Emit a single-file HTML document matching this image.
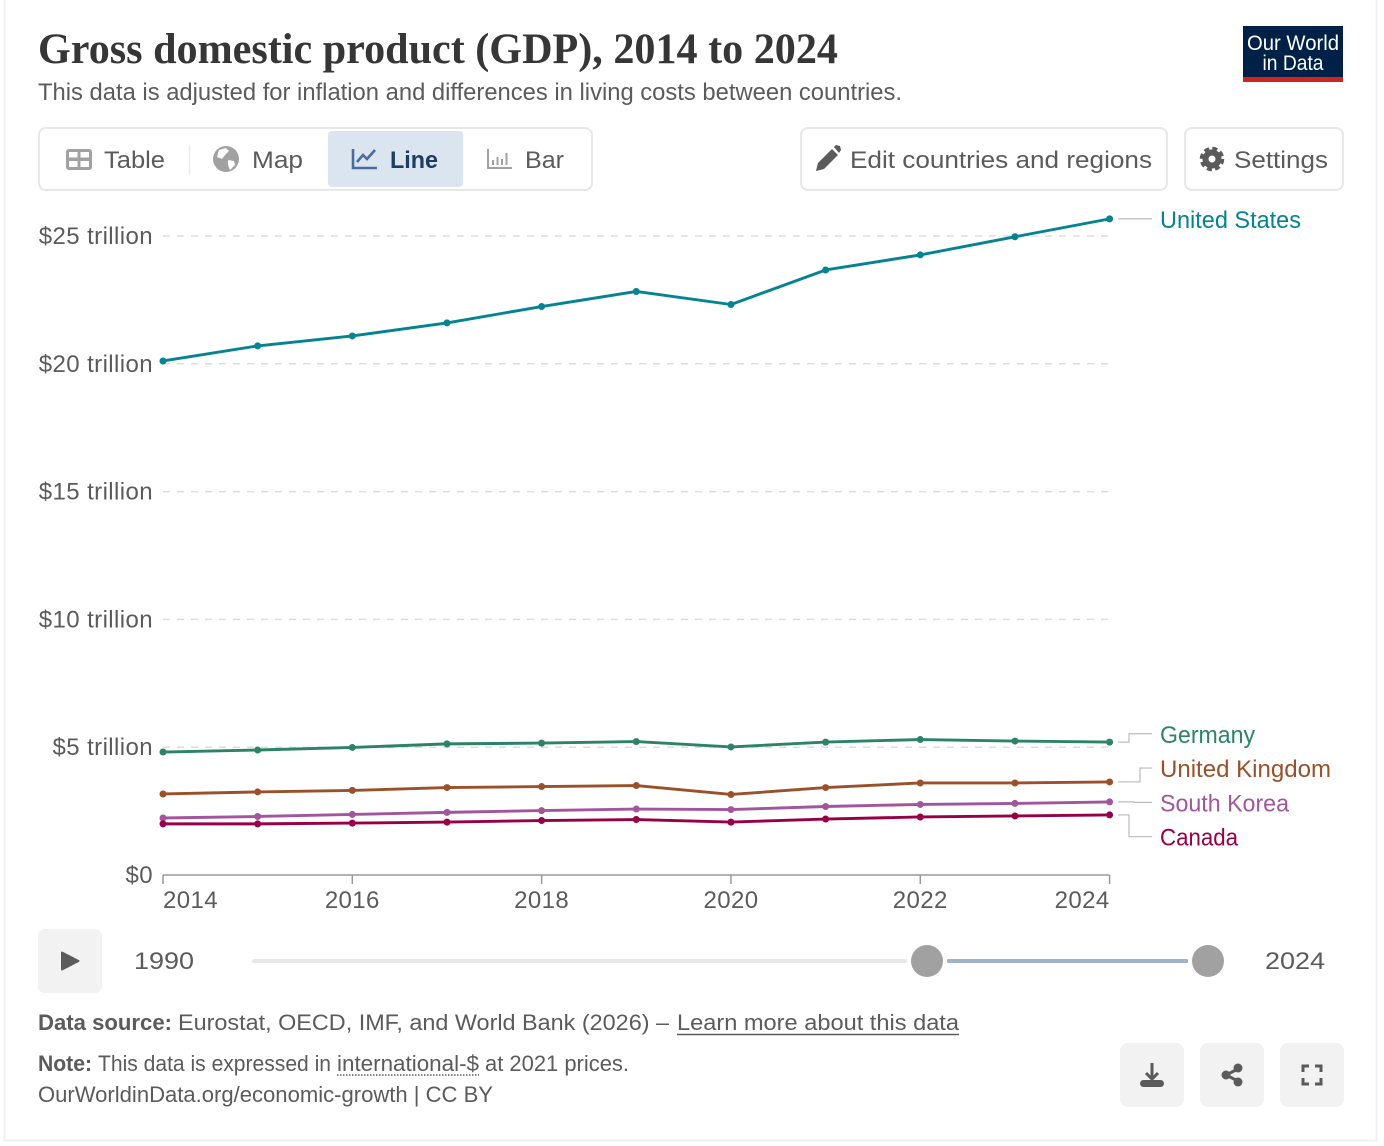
<!DOCTYPE html>
<html lang="en">
<head>
<meta charset="utf-8">
<title>Gross domestic product (GDP), 2014 to 2024</title>
<style>
html,body{margin:0;padding:0;background:#fff;width:1384px;height:1146px;overflow:hidden}
svg{display:block}
text{font-family:"Liberation Sans",sans-serif;font-size:24px;fill:#5b5b5b}
.foot{font-size:22.5px}
</style>
</head>
<body>
<svg id="chart" xmlns="http://www.w3.org/2000/svg" width="1384" height="1146" viewBox="0 0 1384 1146">
  <path d="M4.5 0V1140.5H1376.5V0" fill="none" stroke="#f0f0f0" stroke-width="2"/>

  <text x="38" y="63" textLength="800" lengthAdjust="spacingAndGlyphs" style="font-family:'Liberation Serif',serif;font-weight:700;font-size:43px;fill:#363636">Gross domestic product (GDP), 2014 to 2024</text>
  <text x="38" y="100" textLength="864" lengthAdjust="spacingAndGlyphs">This data is adjusted for inflation and differences in living costs between countries.</text>

  <g>
    <rect x="1243" y="26" width="100" height="56" fill="#002147"/>
    <rect x="1243" y="77" width="100" height="5" fill="#ce261e"/>
    <text x="1293" y="50" text-anchor="middle" textLength="92" lengthAdjust="spacingAndGlyphs" style="fill:#fff;font-size:21px">Our World</text>
    <text x="1293" y="70" text-anchor="middle" textLength="61" lengthAdjust="spacingAndGlyphs" style="fill:#fff;font-size:21px">in Data</text>
  </g>

  <g>
    <rect x="39" y="128" width="553" height="62" rx="7" fill="#fff" stroke="#e7e7e7" stroke-width="2"/>
    <rect x="328" y="131" width="135" height="56" rx="4" fill="#dbe5f0"/>
    <line x1="189.5" y1="145" x2="189.5" y2="175" stroke="#eee" stroke-width="1.5"/>
    <g>
      <rect x="66" y="149" width="26" height="21" rx="3" fill="#a1a1a1"/>
      <rect x="69" y="152" width="8.500" height="5.500" fill="#fff"/>
      <rect x="80.500" y="152" width="8.500" height="5.500" fill="#fff"/>
      <rect x="69" y="161" width="8.500" height="6" fill="#fff"/>
      <rect x="80.500" y="161" width="8.500" height="6" fill="#fff"/>
    </g>
    <text x="104" y="168" textLength="61" lengthAdjust="spacingAndGlyphs">Table</text>
    <g>
      <circle cx="226" cy="159" r="13" fill="#a1a1a1"/>
      <path d="M219 150l7-2 3 3-4 4-3 4-5-2zM228 160l6 1 1 4-5 5-2-5z" fill="#fff"/>
      <text x="252" y="168" textLength="51" lengthAdjust="spacingAndGlyphs">Map</text>
    </g>
    <g>
      <path d="M353 149V168H377" fill="none" stroke="#4c6a9c" stroke-width="2.6"/>
      <path d="M357 162l6-7 4 4 8-9" fill="none" stroke="#4c6a9c" stroke-width="2.6"/>
      <text x="390" y="168" textLength="48" lengthAdjust="spacingAndGlyphs" style="fill:#1d3d63;font-weight:700">Line</text>
    </g>
    <g>
      <path d="M488 149V168H512" fill="none" stroke="#a1a1a1" stroke-width="2"/>
      <path d="M493 165v-5M497.500 165v-8M502 165v-6M506.500 165v-12" stroke="#a1a1a1" stroke-width="2" fill="none"/>
      <text x="525" y="168" textLength="39" lengthAdjust="spacingAndGlyphs">Bar</text>
    </g>
  </g>

  <g>
    <rect x="801" y="128" width="366" height="62" rx="7" fill="#fff" stroke="#e7e7e7" stroke-width="2"/>
    <path d="M816 171l2-8 14-14 6 6-14 14zM834 147l2-2 4 1 1 4-2 3z" fill="#5b5b5b"/>
    <text x="850" y="168" textLength="302" lengthAdjust="spacingAndGlyphs">Edit countries and regions</text>
  </g>
  <g>
    <rect x="1185" y="128" width="158" height="62" rx="7" fill="#fff" stroke="#e7e7e7" stroke-width="2"/>
    <circle cx="1212" cy="159" r="10.500" fill="none" stroke="#5b5b5b" stroke-width="3.500" stroke-dasharray="5 3.250"/>
    <circle cx="1212" cy="159" r="6.500" fill="none" stroke="#5b5b5b" stroke-width="6"/>
    <text x="1234" y="168" textLength="94" lengthAdjust="spacingAndGlyphs">Settings</text>
  </g>

  <g id="grid"></g>
  <g id="yaxis"></g>
  <g id="xaxis"></g>
  <g id="plot"></g>
  <g id="labels"></g>

  <g>
    <g>
      <rect x="38" y="929" width="64" height="64" rx="7" fill="#f2f2f2"/>
      <path d="M62 952.500V969.500L78.500 961Z" fill="#5b5b5b" stroke="#5b5b5b" stroke-width="2" stroke-linejoin="round"/>
    </g>
    <text x="134" y="969" textLength="60" lengthAdjust="spacingAndGlyphs">1990</text>
    <rect x="252" y="959" width="655" height="4" rx="2" fill="#e7e7e7"/>
    <rect x="947" y="959" width="241" height="4" rx="1" fill="#a1b4c7"/>
    <circle cx="927" cy="961" r="16" fill="#a1a1a1"/>
    <circle cx="1208" cy="961" r="16" fill="#a1a1a1"/>
    <text x="1265" y="969" textLength="60" lengthAdjust="spacingAndGlyphs">2024</text>
  </g>

  <g>
    <text class="foot" x="38" y="1030" textLength="134" lengthAdjust="spacingAndGlyphs" style="font-weight:700">Data source:</text>
    <text class="foot" x="178" y="1030" textLength="491" lengthAdjust="spacingAndGlyphs">Eurostat, OECD, IMF, and World Bank (2026) –</text>
    <text class="foot" x="677" y="1030" textLength="282" lengthAdjust="spacingAndGlyphs">Learn more about this data</text>
    <line x1="677" y1="1034.500" x2="959" y2="1034.500" stroke="#5b5b5b" stroke-width="1.500"/>
    <text class="foot" x="38" y="1071" textLength="54" lengthAdjust="spacingAndGlyphs" style="font-weight:700">Note:</text>
    <text class="foot" x="98" y="1071" textLength="233" lengthAdjust="spacingAndGlyphs">This data is expressed in</text>
    <text class="foot" x="337" y="1071" textLength="142" lengthAdjust="spacingAndGlyphs">international-$</text>
    <line x1="337" y1="1075" x2="479" y2="1075" stroke="#5b5b5b" stroke-width="1.500" stroke-dasharray="1.500 1.500"/>
    <text class="foot" x="485" y="1071" textLength="144" lengthAdjust="spacingAndGlyphs">at 2021 prices.</text>
    <text class="foot" x="38" y="1102" textLength="455" lengthAdjust="spacingAndGlyphs">OurWorldinData.org/economic-growth | CC BY</text>

    <g>
      <rect x="1120" y="1043" width="64" height="64" rx="8" fill="#f2f2f2"/>
      <path d="M1152 1063V1078M1146 1073L1152 1079L1158 1073" fill="none" stroke="#5b5b5b" stroke-width="3"/>
      <rect x="1140" y="1080" width="24" height="7" rx="3.500" fill="#5b5b5b"/>
    </g>
    <g>
      <rect x="1200" y="1043" width="64" height="64" rx="8" fill="#f2f2f2"/>
      <path d="M1238 1069L1226 1075L1238 1081" fill="none" stroke="#5b5b5b" stroke-width="3"/>
      <circle cx="1238" cy="1068" r="4.500" fill="#5b5b5b"/>
      <circle cx="1226" cy="1075" r="4.500" fill="#5b5b5b"/>
      <circle cx="1238" cy="1082" r="4.500" fill="#5b5b5b"/>
    </g>
    <g>
      <rect x="1280" y="1043" width="64" height="64" rx="8" fill="#f2f2f2"/>
      <path d="M1303 1072V1066H1309M1315 1066H1321V1072M1321 1078V1084H1315M1309 1084H1303V1078" fill="none" stroke="#5b5b5b" stroke-width="3"/>
    </g>
  </g>
</svg>
<script>
const years = [2014, 2015, 2016, 2017, 2018, 2019, 2020, 2021, 2022, 2023, 2024];
const yTickValues = [0, 5, 10, 15, 20, 25];
const yTickLabels = ["$0", "$5 trillion", "$10 trillion", "$15 trillion", "$20 trillion", "$25 trillion"];
const xTickLabels = [2014, 2016, 2018, 2020, 2022, 2024];
const seriesNames = ["United States", "Germany", "United Kingdom", "South Korea", "Canada"];
const unitedStates = [20.11, 20.70, 21.09, 21.60, 22.24, 22.83, 22.32, 23.67, 24.26, 24.97, 25.67];
const germany = [4.81, 4.89, 4.99, 5.13, 5.16, 5.22, 5.01, 5.20, 5.30, 5.24, 5.20];
const unitedKingdom = [3.17, 3.25, 3.31, 3.42, 3.46, 3.50, 3.15, 3.42, 3.60, 3.60, 3.64];
const southKorea = [2.23, 2.29, 2.37, 2.45, 2.52, 2.58, 2.56, 2.68, 2.76, 2.80, 2.86];
const canada = [2.00, 2.00, 2.03, 2.07, 2.13, 2.17, 2.07, 2.19, 2.27, 2.31, 2.35];

const seriesValues = [unitedStates, germany, unitedKingdom, southKorea, canada];
const seriesColors = ["#058390", "#2c8465", "#9a5129", "#a2559c", "#970046"];
const labelTextWidths = [141, 95, 171, 129, 78];

const NS = "http://www.w3.org/2000/svg";
const X0 = 163, X1 = 1109.6, Y0 = 875, Y25 = 236;
const xScale = y => X0 + (y - years[0]) / (years[years.length - 1] - years[0]) * (X1 - X0);
const yScale = v => Y0 - v / 25 * (Y0 - Y25);
const slug = s => String(s).toLowerCase().replace(/[^a-z0-9]+/g, "-").replace(/^-|-$/g, "");

function make(tag, attrs, parent, txt) {
  const el = document.createElementNS(NS, tag);
  for (const k in attrs) el.setAttribute(k, attrs[k]);
  if (txt !== undefined) el.textContent = txt;
  parent.appendChild(el);
  return el;
}

const gridG = document.getElementById("grid");
const yG = document.getElementById("yaxis");
const xG = document.getElementById("xaxis");
const plotG = document.getElementById("plot");
const labelG = document.getElementById("labels");

yTickValues.forEach((v, i) => {
  const py = yScale(v);
  if (v !== 0) {
    const gl = make("line", {x1: X0, x2: X1, y1: py, y2: py, stroke: "#dddddd", "stroke-width": 1.5, "stroke-dasharray": "7 7"}, gridG);
    
    
  }
  const t = make("text", {x: 153, y: py + 8, "text-anchor": "end", style: "letter-spacing:.4px"}, yG, yTickLabels[i]);
  
  
});

const axisLine = make("line", {x1: X0, x2: X1, y1: Y0, y2: Y0, stroke: "#999999", "stroke-width": 1.5}, xG);



xTickLabels.forEach((yr, i) => {
  const px = xScale(yr);
  const tick = make("line", {x1: px, x2: px, y1: Y0, y2: Y0 + 9, stroke: "#999999", "stroke-width": 1.5}, xG);
  
  
  const anchor = i === 0 ? "start" : (i === xTickLabels.length - 1 ? "end" : "middle");
  const t = make("text", {x: px, y: 908, "text-anchor": anchor, style: "letter-spacing:.4px"}, xG, yr);
  
  
});

seriesNames.forEach((name, s) => {
  const vals = seriesValues[s];
  const g = make("g", {}, plotG);
  
  
  const pts = vals.map((v, i) => xScale(years[i]).toFixed(2) + "," + yScale(v).toFixed(2)).join(" ");
  const line = make("polyline", {points: pts, fill: "none", stroke: seriesColors[s], "stroke-width": 2.9, "stroke-linejoin": "round"}, g);
  
  
  vals.forEach((v, i) => {
    const dot = make("circle", {cx: xScale(years[i]), cy: yScale(v), r: 3.5, fill: seriesColors[s]}, g);
    
    
  });
});

/* End-label placement: overlapping labels are grouped and spread evenly around their mean. */
const LABEL_GAP = 34.3;
const placed = seriesNames
  .map((name, s) => ({s, name, target: yScale(seriesValues[s][years.length - 1])}))
  .sort((a, b) => a.target - b.target);
let clusters = placed.map(p => [p]);
const centerOf = c => c.reduce((a, p) => a + p.target, 0) / c.length + 1;
const overlap = (a, b) =>
  centerOf(a) + (a.length - 1) * LABEL_GAP / 2 + LABEL_GAP > centerOf(b) - (b.length - 1) * LABEL_GAP / 2;
for (let merged = true; merged;) {
  merged = false;
  for (let i = 0; i < clusters.length - 1; i++) {
    if (overlap(clusters[i], clusters[i + 1])) {
      clusters[i] = clusters[i].concat(clusters[i + 1]);
      clusters.splice(i + 1, 1);
      merged = true;
      break;
    }
  }
}
clusters.forEach(c => {
  const mid = centerOf(c);
  c.forEach((p, i) => { p.center = mid + (i - (c.length - 1) / 2) * LABEL_GAP; });
  const ups = c.filter(p => p.target - p.center > 3);
  const downs = c.filter(p => p.center - p.target > 3).reverse();
  ups.forEach((p, i) => { p.elbow = 1129 + 11 * i; });
  downs.forEach((p, i) => { p.elbow = 1129 + 11 * i; });
});

placed.forEach(p => {
  const color = seriesColors[p.s];
  const endY = p.center - 1;
  const elbow = p.elbow === undefined ? 1134 : p.elbow;
  const conn = make("path", {d: "M1118 " + p.target + "H" + elbow + "V" + endY + "H1152", fill: "none", stroke: "#bbbbbb", "stroke-width": 1.2}, labelG);
  
  
  const t = make("text", {x: 1160, y: p.center + 8, style: "fill:" + color}, labelG, p.name);
  
  
  t.setAttribute("textLength", labelTextWidths[p.s]);
  t.setAttribute("lengthAdjust", "spacingAndGlyphs");
});
</script>
</body>
</html>
